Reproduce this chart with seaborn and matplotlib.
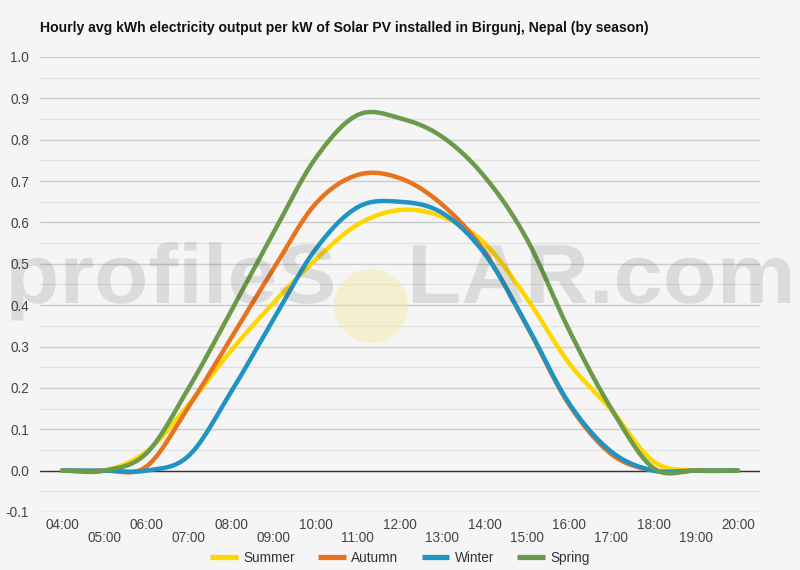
import numpy as np
import pandas as pd
import matplotlib
matplotlib.use("Agg")
import matplotlib.pyplot as plt
from matplotlib.patches import Circle, PathPatch
from matplotlib.textpath import TextPath
from matplotlib.font_manager import FontProperties
from matplotlib.transforms import IdentityTransform, Affine2D
import seaborn as sns

hours = [4, 5, 6, 7, 8, 9, 10, 11, 12, 13, 14, 15, 16, 17, 18, 19, 20]
hour_labels = [f"{h:02d}:00" for h in hours]
summer = [0.0, 0.0, 0.046, 0.16, 0.29, 0.405, 0.51, 0.595, 0.63, 0.614, 0.55, 0.417, 0.26, 0.147, 0.022, 0.0, 0.0]
autumn = [0.0, 0.0, 0.01, 0.155, 0.32, 0.487, 0.645, 0.715, 0.707, 0.643, 0.53, 0.35, 0.16, 0.04, 0.0, 0.0, 0.0]
winter = [0.0, 0.0, 0.0, 0.036, 0.19, 0.365, 0.535, 0.637, 0.65, 0.623, 0.525, 0.352, 0.163, 0.046, 0.0, 0.0, 0.0]
spring = [0.0, 0.0, 0.042, 0.20, 0.385, 0.574, 0.755, 0.86, 0.852, 0.807, 0.711, 0.56, 0.34, 0.15, 0.006, 0.0, 0.0]
series_names = ["Summer", "Autumn", "Winter", "Spring"]
colors = ["#FFD700", "#E8731E", "#1F94C4", "#6A9A4A"]
title = "Hourly avg kWh electricity output per kW of Solar PV installed in Birgunj, Nepal (by season)"


def catmull_rom(x, y, per=40):
    x = np.asarray(x, float); y = np.asarray(y, float)
    n = len(x)
    m = np.zeros(n)
    m[1:-1] = (y[2:] - y[:-2]) / (x[2:] - x[:-2])
    m[0] = (y[1] - y[0]) / (x[1] - x[0])
    m[-1] = (y[-1] - y[-2]) / (x[-1] - x[-2])
    xs_all, ys_all = [], []
    for i in range(n - 1):
        h = x[i + 1] - x[i]
        t = np.linspace(0, 1, per, endpoint=(i == n - 2))
        h00 = 2 * t**3 - 3 * t**2 + 1
        h10 = t**3 - 2 * t**2 + t
        h01 = -2 * t**3 + 3 * t**2
        h11 = t**3 - t**2
        xs_all.append(x[i] + t * h)
        ys_all.append(h00 * y[i] + h10 * h * m[i] + h01 * y[i + 1] + h11 * h * m[i + 1])
    return np.concatenate(xs_all), np.concatenate(ys_all)


frames = []
for name, vals in zip(series_names, [summer, autumn, winter, spring]):
    xs, ys = catmull_rom(hours, vals)
    frames.append(pd.DataFrame({"hour": xs, "value": ys, "season": name}))
df = pd.concat(frames, ignore_index=True)

sns.set_theme(style="white")
plt.rcParams["font.family"] = ["Liberation Sans", "DejaVu Sans"]

W, H = 800, 570
fig = plt.figure(figsize=(8, 5.7), dpi=100, facecolor="#F5F5F5")
ax = fig.add_axes([0.05, 0.1018, 0.90, 0.7982])
ax.set_facecolor("#F5F5F5")

sns.lineplot(data=df, x="hour", y="value", hue="season", hue_order=series_names,
             palette=dict(zip(series_names, colors)), linewidth=3.2, ax=ax,
             legend=True, zorder=3, sort=False, estimator=None)

ax.set_xlim(4 - 22 / 42.25, 20 + 22 / 42.25)
ax.set_ylim(-0.1, 1.0)
yt = np.round(np.arange(-0.1, 1.01, 0.1), 1)
ax.set_yticks(yt)
ax.set_yticklabels([f"{v:.1f}" for v in yt])
ax.set_yticks(np.arange(-0.05, 1.0, 0.1), minor=True)
ax.grid(axis="y", which="major", color="#CCCCCC", linewidth=1.0)
ax.grid(axis="y", which="minor", color="#E2E2E2", linewidth=1.0)
ax.grid(axis="x", visible=False)
ax.axhline(0, color="#333333", linewidth=1.0, zorder=2)

even = [h for h in hours if h % 2 == 0]
odd = [h for h in hours if h % 2 == 1]
ax.set_xticks(even)
ax.set_xticklabels([hour_labels[hours.index(h)] for h in even])
ax.set_xticks(odd, minor=True)
ax.set_xticklabels([hour_labels[hours.index(h)] for h in odd], minor=True)
ax.tick_params(axis="x", which="major", length=0, pad=4, labelsize=9.8, labelcolor="#444444")
ax.tick_params(axis="x", which="minor", length=0, pad=14, labelsize=9.8, labelcolor="#444444")
ax.tick_params(axis="y", which="both", length=0, pad=8, labelsize=9.8, labelcolor="#444444")
ax.set_xlabel(""); ax.set_ylabel("")
for s in ax.spines.values():
    s.set_visible(False)

handles, labels = ax.get_legend_handles_labels()
ax.get_legend().remove()
leg = fig.legend(handles, labels, loc="center", bbox_to_anchor=(0.5, 1 - 558 / 570), ncol=4,
                 frameon=False, fontsize=9.8, handlelength=2.05, columnspacing=1.7,
                 handletextpad=0.4)
for line in leg.get_lines():
    line.set_linewidth(3.8)
    line.set_solid_capstyle("butt")
for t in leg.get_texts():
    t.set_color("#333333")

fig.text(40 / W, 1 - 28 / H, title, fontsize=10.1, fontweight="bold", color="#111111",
         ha="left", va="center")

# watermark (drawn in pixel coordinates)
fig.add_artist(Circle((371, H - 306), 37, transform=IdentityTransform(), facecolor="#F3E9A0",
                      edgecolor="none", alpha=0.45, zorder=10))
fp = FontProperties(family="Liberation Sans", weight="bold")
baseline = H - 303
for txt, x0, x1 in [("profileS", 5, 333), ("LAR.com", 407, 790)]:
    tp = TextPath((0, 0), txt, size=84, prop=fp)
    v = tp.vertices
    xmin, xmax = v[:, 0].min(), v[:, 0].max()
    sx = (x1 - x0) / (xmax - xmin)
    tr = Affine2D().translate(-xmin, 0).scale(sx, 1.0).translate(x0, baseline)
    fig.add_artist(PathPatch(tr.transform_path(tp), transform=IdentityTransform(),
                             facecolor="#404040", edgecolor="none", alpha=0.14, zorder=11))

fig.savefig("out.png", dpi=100, facecolor="#F5F5F5")
